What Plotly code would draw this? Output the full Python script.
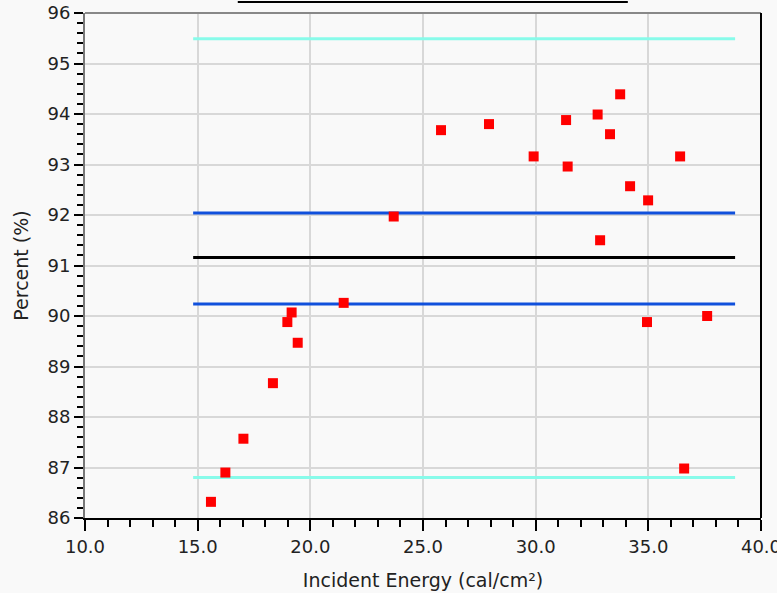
import plotly.graph_objects as go

# Data points (Incident Energy vs Percent)
energy = [15.59, 16.23, 17.03, 18.34, 18.98, 19.17, 19.44, 21.48, 23.70, 25.80,
          27.93, 29.91, 31.35, 31.42, 32.75, 32.86, 33.30, 33.75, 34.19, 34.99,
          36.41, 34.94, 37.61, 36.59]
percent = [86.32, 86.90, 87.57, 88.67, 89.88, 90.07, 89.47, 90.26, 91.97, 93.68,
           93.80, 93.16, 93.88, 92.96, 93.99, 91.50, 93.60, 94.39, 92.57, 92.29,
           93.16, 89.88, 90.00, 86.98]

# Reference lines (levels) spanning the energy range
line_x = [14.8, 38.85]
upper_outer = 95.49
upper_inner = 92.04
mean_level = 91.16
lower_inner = 90.24
lower_outer = 86.80

x_ticks = [10, 15, 20, 25, 30, 35, 40]
y_ticks = [86, 87, 88, 89, 90, 91, 92, 93, 94, 95, 96]

CYAN = "#88fbea"
BLUE = "#1050dc"

fig = go.Figure()
for lvl, col in [(upper_outer, CYAN), (lower_outer, CYAN),
                 (upper_inner, BLUE), (lower_inner, BLUE),
                 (mean_level, "black")]:
    fig.add_trace(go.Scatter(x=line_x, y=[lvl, lvl], mode="lines",
                             line=dict(color=col, width=3), showlegend=False,
                             hoverinfo="skip"))

fig.add_trace(go.Scatter(x=energy, y=percent, mode="markers",
                         marker=dict(symbol="square", size=10, color="#ff0000",
                                     line=dict(width=0)),
                         showlegend=False))

font = "DejaVu Sans, Verdana, sans-serif"
fig.update_layout(
    width=777, height=593,
    margin=dict(l=85, r=16, t=13, b=75),
    paper_bgcolor="#f9f9f9", plot_bgcolor="#f9f9f9",
    font=dict(family=font, size=16, color="#222"),
    xaxis=dict(range=[10, 40], tickvals=x_ticks, tickformat=".1f",
               automargin=False, ticklabeloverflow="allow",
               showgrid=True, gridcolor="#d8d8d8", gridwidth=2,
               showline=True, linecolor="black", linewidth=2,
               ticks="outside", ticklen=11, tickcolor="black", tickwidth=2,
               tickfont=dict(size=18), zeroline=False,
               minor=dict(dtick=1, ticks="outside", ticklen=7, tickcolor="black",
                          tickwidth=2, showgrid=False),
               title=dict(text="Incident Energy (cal/cm²)", font=dict(size=19), standoff=18)),
    yaxis=dict(range=[86, 96], tickvals=y_ticks,
               automargin=False, ticklabeloverflow="allow",
               showgrid=True, gridcolor="#d8d8d8", gridwidth=2,
               showline=True, linecolor="#777", linewidth=2,
               ticks="outside", ticklen=9, tickcolor="black", tickwidth=2,
               tickfont=dict(size=18), zeroline=False,
               minor=dict(dtick=0.2, ticks="outside", ticklen=6, tickcolor="black",
                          tickwidth=2, showgrid=False),
               title=dict(text="Percent (%)", font=dict(size=19), standoff=14)),
    shapes=[
        dict(type="line", xref="paper", yref="paper", x0=0, x1=1, y0=1, y1=1,
             line=dict(color="#888", width=2)),
        dict(type="line", xref="paper", yref="paper", x0=1, x1=1, y0=0, y1=1,
             line=dict(color="black", width=2)),
        dict(type="line", xref="paper", yref="paper", x0=0.226, x1=0.803,
             y0=1.022, y1=1.022, line=dict(color="black", width=2)),
    ],
)

fig.write_html("out.html", config={"displayModeBar": False},
               post_script="document.body.style.margin='0';document.body.style.background='#f9f9f9';")
